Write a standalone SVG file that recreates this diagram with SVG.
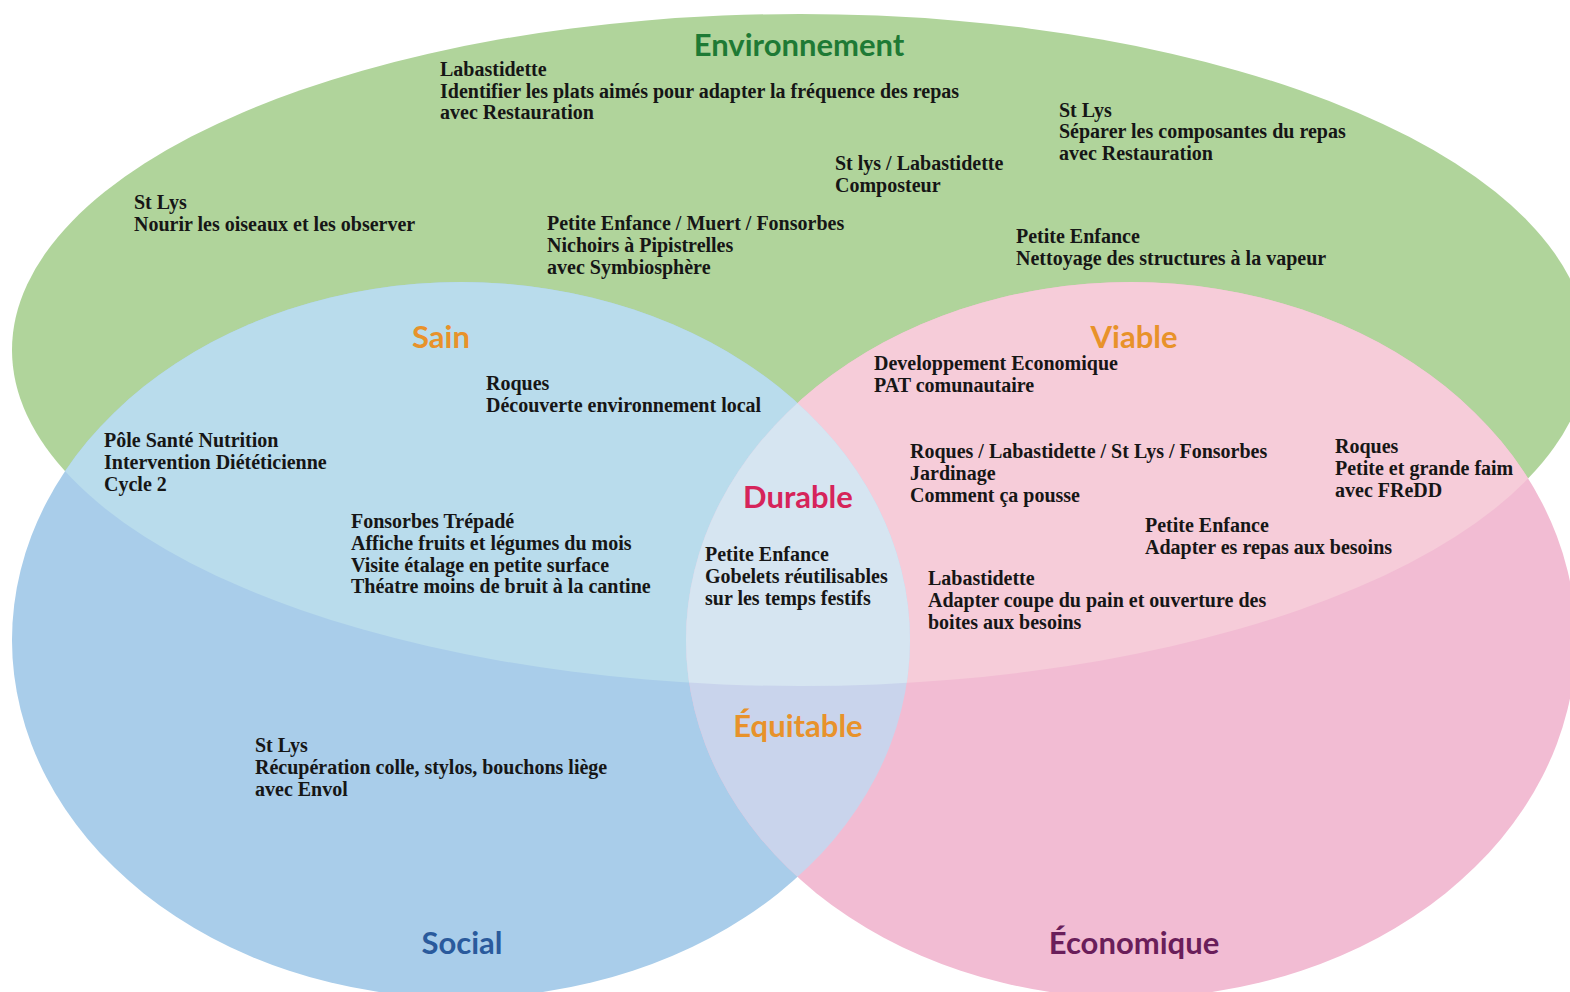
<svg xmlns="http://www.w3.org/2000/svg" width="1570" height="992" viewBox="0 0 1570 992">
<style>
.t{font-family:"Liberation Serif","Times New Roman",serif;font-weight:bold;font-size:20px;fill:#161616}
.h{font-family:Lato,"Noto Sans",sans-serif;font-weight:bold;font-size:31px;text-anchor:middle}
</style>
<defs>
<clipPath id="cG"><ellipse cx="800" cy="350" rx="788" ry="336"/></clipPath>
<clipPath id="cB"><ellipse cx="461" cy="640" rx="449" ry="358"/></clipPath>
</defs>
<rect width="1570" height="992" fill="#ffffff"/>
<g id="circles">
<ellipse id="env" cx="800" cy="350" rx="788" ry="336" fill="#b0d49b"/>
<ellipse id="soc" cx="461" cy="640" rx="449" ry="358" fill="#a9cdea"/>
<ellipse id="eco" cx="1131" cy="640" rx="445" ry="358" fill="#f2bcd3"/>
<g clip-path="url(#cG)">
<ellipse cx="461" cy="640" rx="449" ry="358" fill="#b9dcec"/>
<ellipse cx="1131" cy="640" rx="445" ry="358" fill="#f6ccd9"/>
</g>
<g clip-path="url(#cB)">
<ellipse cx="1131" cy="640" rx="445" ry="358" fill="#c9d4ec"/>
</g>
<g clip-path="url(#cG)"><g clip-path="url(#cB)">
<ellipse cx="1131" cy="640" rx="445" ry="358" fill="#d6e5f1"/>
</g></g>
</g>
<g id="titles">
<text class="h" x="799" y="56" fill="#1e7a35">Environnement</text>
<text class="h" x="441" y="348" fill="#e8922a">Sain</text>
<text class="h" x="1134" y="348" fill="#e8922a">Viable</text>
<text class="h" x="798" y="508" fill="#d6245a">Durable</text>
<text class="h" x="798" y="737" fill="#e8922a">Équitable</text>
<text class="h" x="462" y="954" fill="#2a5a9c">Social</text>
<text class="h" x="1134" y="954" fill="#6a1e5a">Économique</text>
</g>
<g id="n1"><text class="t"><tspan x="440" y="76">Labastidette</tspan><tspan x="440" y="98">Identifier les plats aimés pour adapter la fréquence des repas</tspan><tspan x="440" y="119">avec Restauration</tspan></text></g>
<g id="n2"><text class="t"><tspan x="134" y="209">St Lys</tspan><tspan x="134" y="231">Nourir les oiseaux et les observer</tspan></text></g>
<g id="n3"><text class="t"><tspan x="547" y="230">Petite Enfance / Muert / Fonsorbes</tspan><tspan x="547" y="252">Nichoirs à Pipistrelles</tspan><tspan x="547" y="274">avec Symbiosphère</tspan></text></g>
<g id="n4"><text class="t"><tspan x="835" y="170">St lys / Labastidette</tspan><tspan x="835" y="192">Composteur</tspan></text></g>
<g id="n5"><text class="t"><tspan x="1059" y="117">St Lys</tspan><tspan x="1059" y="138">Séparer les composantes du repas</tspan><tspan x="1059" y="160">avec Restauration</tspan></text></g>
<g id="n6"><text class="t"><tspan x="1016" y="243">Petite Enfance</tspan><tspan x="1016" y="265">Nettoyage des structures à la vapeur</tspan></text></g>
<g id="n7"><text class="t"><tspan x="486" y="390">Roques</tspan><tspan x="486" y="412">Découverte environnement local</tspan></text></g>
<g id="n8"><text class="t"><tspan x="104" y="447">Pôle Santé Nutrition</tspan><tspan x="104" y="469">Intervention Diététicienne</tspan><tspan x="104" y="491">Cycle 2</tspan></text></g>
<g id="n9"><text class="t"><tspan x="874" y="370">Developpement Economique</tspan><tspan x="874" y="392">PAT comunautaire</tspan></text></g>
<g id="n10"><text class="t"><tspan x="910" y="458">Roques / Labastidette / St Lys / Fonsorbes</tspan><tspan x="910" y="480">Jardinage</tspan><tspan x="910" y="502">Comment ça pousse</tspan></text></g>
<g id="n11"><text class="t"><tspan x="1335" y="453">Roques</tspan><tspan x="1335" y="475">Petite et grande faim</tspan><tspan x="1335" y="497">avec FReDD</tspan></text></g>
<g id="n12"><text class="t"><tspan x="351" y="528">Fonsorbes Trépadé</tspan><tspan x="351" y="550">Affiche fruits et légumes du mois</tspan><tspan x="351" y="572">Visite étalage en petite surface</tspan><tspan x="351" y="593">Théatre moins de bruit à la cantine</tspan></text></g>
<g id="n13"><text class="t"><tspan x="705" y="561">Petite Enfance</tspan><tspan x="705" y="583">Gobelets réutilisables</tspan><tspan x="705" y="605">sur les temps festifs</tspan></text></g>
<g id="n14"><text class="t"><tspan x="1145" y="532">Petite Enfance</tspan><tspan x="1145" y="554">Adapter es repas aux besoins</tspan></text></g>
<g id="n15"><text class="t"><tspan x="928" y="585">Labastidette</tspan><tspan x="928" y="607">Adapter coupe du pain et ouverture des</tspan><tspan x="928" y="629">boites aux besoins</tspan></text></g>
<g id="n16"><text class="t"><tspan x="255" y="752">St Lys</tspan><tspan x="255" y="774">Récupération colle, stylos, bouchons liège</tspan><tspan x="255" y="796">avec Envol</tspan></text></g>
</svg>
